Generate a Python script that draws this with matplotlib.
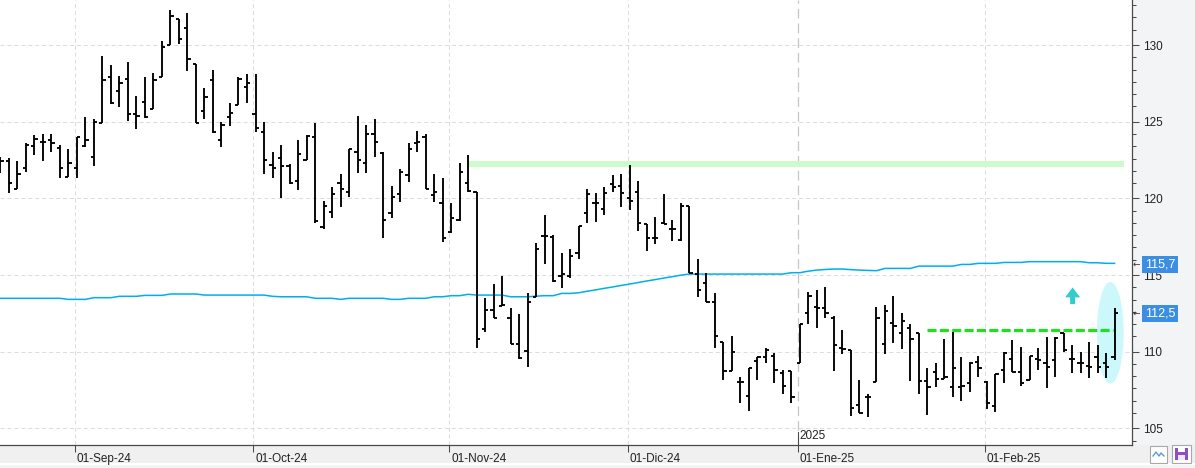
import numpy as np
import pandas as pd
import matplotlib
matplotlib.use('Agg')
import matplotlib.pyplot as plt
from matplotlib.collections import LineCollection
from matplotlib.patches import Ellipse, Rectangle
from matplotlib.transforms import ScaledTranslation

plt.rcParams['font.family'] = ['Liberation Sans', 'DejaVu Sans']
plt.rcParams['lines.scale_dashes'] = False

# trading days (Bolsa de Madrid, 20-Aug-24 .. 24-Feb-25)
dates = pd.bdate_range('2024-08-20', '2025-02-24', freq='C',
                       holidays=['2024-12-25', '2024-12-26', '2025-01-01'])

opens = [122.54, 122.41, 120.59, 121.96, 123.41, 123.65, 123.80, 123.26, 121.37, 121.96,
         123.41, 122.67, 124.89, 127.89, 127.00, 127.76, 125.48, 126.26, 125.80, 127.94,
         129.98, 131.70, 131.09, 128.76, 125.72, 127.72, 123.80, 125.28, 126.07, 127.24,
         125.50, 124.30, 122.20, 122.61, 122.13, 121.13, 122.48, 124.02, 118.11, 119.11,
         120.98, 120.39, 123.00, 122.28, 124.17, 122.93, 119.07, 120.28, 121.52, 123.59,
         124.02, 120.22, 119.72, 117.78, 118.59, 120.98, 120.39, 111.47, 112.71, 112.97,
         112.17, 110.47, 110.04, 113.58, 117.54, 117.50, 114.95, 114.93, 116.45, 119.06,
         119.67, 119.28, 120.91, 120.80, 120.00, 120.43, 118.32, 117.39, 118.41, 117.98,
         117.28, 119.50, 115.04, 114.50, 113.26, 110.61, 108.74, 108.00, 107.11, 109.41,
         109.63, 109.72, 108.63, 108.74, 109.28, 112.50, 112.93, 112.82, 112.17, 110.22,
         110.11, 106.52, 107.07, 108.00, 110.50, 111.85, 111.20, 111.52, 111.20, 108.11,
         108.70, 108.20, 107.72, 107.72, 107.98, 109.35, 108.04, 106.46, 108.80, 109.50,
         108.70, 108.15, 109.50, 109.24, 109.46, 111.20, 109.50, 109.24, 109.09, 109.63,
         109.24, 109.63]
highs = [122.72, 122.61, 122.41, 123.59, 124.13, 124.20, 124.20, 123.48, 123.22, 124.02,
         125.28, 125.17, 129.28, 128.70, 127.98, 128.91, 126.67, 127.94, 128.20, 130.26,
         132.28, 131.70, 132.09, 128.76, 127.22, 128.37, 124.98, 126.22, 127.94, 128.11,
         128.11, 124.98, 123.04, 123.48, 122.22, 123.80, 124.13, 124.94, 119.83, 120.72,
         121.59, 123.22, 125.37, 124.78, 125.20, 123.02, 120.80, 121.91, 123.59, 124.39,
         124.20, 121.61, 121.30, 119.72, 122.28, 122.83, 120.39, 113.47, 114.41, 114.93,
         112.82, 112.45, 113.84, 117.06, 118.91, 117.60, 116.41, 116.69, 118.19, 120.58,
         120.37, 120.72, 121.52, 121.59, 122.17, 121.13, 118.32, 118.76, 120.28, 118.58,
         119.72, 119.50, 116.04, 115.11, 113.80, 110.61, 111.02, 108.37, 108.91, 109.67,
         110.22, 109.89, 108.80, 108.74, 111.80, 113.87, 114.02, 114.24, 112.35, 111.41,
         110.11, 108.15, 107.24, 112.89, 113.04, 113.63, 112.54, 111.80, 111.20, 108.96,
         109.28, 110.83, 111.30, 109.63, 109.30, 109.72, 108.11, 108.54, 110.00, 110.76,
         110.28, 109.72, 110.22, 110.93, 110.93, 111.20, 110.43, 110.00, 110.63, 110.41,
         109.89, 112.83]
lows = [121.67, 120.37, 120.59, 121.74, 122.83, 122.46, 123.04, 121.30, 121.37, 121.30,
        123.37, 122.13, 124.89, 126.15, 125.98, 125.07, 124.50, 125.26, 125.80, 127.91,
        129.98, 130.04, 128.33, 124.89, 125.15, 124.28, 123.37, 124.74, 126.07, 126.24,
        124.30, 121.57, 121.30, 120.04, 120.91, 120.54, 122.48, 118.37, 117.98, 118.74,
        119.46, 120.07, 121.67, 121.67, 122.67, 117.39, 118.74, 119.78, 121.09, 123.04,
        120.59, 119.78, 117.17, 117.72, 118.54, 120.44, 110.21, 111.30, 112.17, 112.97,
        110.47, 109.50, 108.97, 113.58, 115.69, 114.56, 114.13, 114.78, 116.02, 118.37,
        118.48, 118.91, 120.39, 119.41, 119.24, 117.89, 116.58, 117.00, 118.32, 117.22,
        117.24, 115.11, 113.58, 113.26, 110.22, 108.15, 108.74, 106.63, 106.13, 108.15,
        109.24, 107.98, 107.22, 106.63, 109.24, 111.80, 111.52, 112.17, 108.74, 109.85,
        105.82, 105.98, 105.72, 108.00, 109.85, 110.54, 110.17, 108.11, 107.24, 105.87,
        107.72, 108.20, 107.07, 106.80, 107.39, 108.37, 106.24, 106.09, 107.93, 108.70,
        107.76, 108.15, 108.80, 107.61, 108.37, 110.00, 108.63, 108.59, 108.30, 108.59,
        108.30, 109.46]
closes = [122.46, 120.98, 121.59, 123.48, 123.85, 123.65, 123.59, 121.96, 122.28, 124.02,
          123.80, 124.96, 127.70, 126.20, 127.50, 125.48, 125.37, 125.28, 127.72, 129.85,
          131.89, 130.37, 129.07, 124.94, 126.63, 124.30, 124.78, 125.54, 127.78, 127.50,
          124.57, 122.48, 121.96, 122.13, 121.02, 122.89, 124.09, 118.52, 119.50, 120.28,
          120.61, 123.20, 122.50, 124.17, 123.67, 118.59, 120.07, 121.74, 123.20, 123.65,
          120.59, 120.39, 117.39, 118.70, 121.70, 120.48, 110.80, 112.71, 112.17, 113.04,
          110.47, 109.56, 113.26, 116.67, 117.54, 114.60, 115.05, 116.24, 118.19, 120.26,
          119.67, 120.37, 120.76, 120.32, 119.82, 118.41, 117.39, 117.39, 118.32, 117.98,
          119.50, 115.15, 114.02, 113.26, 111.02, 108.74, 110.00, 108.00, 108.91, 109.63,
          110.11, 108.80, 107.78, 107.02, 111.80, 113.65, 112.82, 112.50, 110.43, 110.15,
          106.30, 106.02, 107.07, 112.17, 112.67, 111.67, 112.02, 110.80, 108.11, 107.72,
          108.20, 108.37, 108.91, 107.76, 109.28, 108.91, 106.63, 108.52, 109.93, 108.70,
          107.98, 109.72, 109.46, 109.02, 110.91, 110.11, 109.50, 109.24, 109.02, 109.02,
          109.02, 112.50]
# moving average (blue line)
ma = ([113.48] * 8 + [113.41] * 3 + [113.52] * 3 + [113.61] * 3 + [113.67] * 3
      + [113.76] * 4 + [113.69] * 8 + [113.61, 113.58, 113.58, 113.58, 113.58]
      + [113.48, 113.48, 113.48, 113.41, 113.48, 113.48, 113.48, 113.48, 113.48,
         113.41, 113.41, 113.48, 113.48, 113.48, 113.58, 113.58, 113.65, 113.65,
         113.74, 113.69, 113.69, 113.69, 113.69, 113.58, 113.58, 113.58, 113.62,
         113.65, 113.65, 113.80, 113.80]
      + [113.84, 113.94, 114.03, 114.13, 114.22, 114.32, 114.41, 114.51, 114.61,
         114.70, 114.80, 114.89, 114.99, 115.06]
      + [115.06] * 11
      + [115.15, 115.15, 115.25, 115.32, 115.36, 115.39, 115.39, 115.35, 115.32,
         115.30, 115.28, 115.43, 115.43, 115.43, 115.43, 115.58, 115.58, 115.58,
         115.58, 115.58, 115.69, 115.69, 115.76, 115.76, 115.76, 115.82, 115.82,
         115.82, 115.87]
      + [115.87] * 6 + [115.80, 115.80, 115.76, 115.76])

month_labels = ['01-Sep-24', '01-Oct-24', '01-Nov-24', '01-Dic-24', '01-Ene-25', '01-Feb-25']
year_label = '2025'
y_ticks = [105, 110, 115, 120, 125, 130]

resistance_band = (122.06, 122.43)   # light green zone
resistance_start = 55.1
breakout_level = 111.41              # green dashed line
breakout_start = 109.0
ma_tag = '115,7'
last_tag = '112,5'

x = np.arange(len(closes))
month_idx = [i for i in range(1, len(dates)) if dates[i].month != dates[i - 1].month]
month_pos = [i - 0.25 for i in month_idx]

W, H = 1195, 468
fig = plt.figure(figsize=(W / 100, H / 100), dpi=100)
fig.patch.set_facecolor('#f3f4f6')
fig.add_artist(Rectangle((0, 1 - 463 / H), 1, 18 / H, transform=fig.transFigure,
                         facecolor='#f0f0f0', edgecolor='none', zorder=0))
fig.add_artist(Rectangle((0, 1 - 464.5 / H), 1, 1.2 / H, transform=fig.transFigure,
                         facecolor='white', edgecolor='none', zorder=0))

ax = fig.add_axes([0, (H - 445) / H, 1132 / W, 445 / H])
ax.set_facecolor('white')
ax.set_xlim(-0.04, 133.05)
ax.set_ylim(103.91, 132.94)

# grid
for yv in y_ticks:
    ax.axhline(yv, color='#dddddd', lw=0.75, ls=(0, (2.9, 2.1)), zorder=0)
for p, lab in zip(month_pos, month_labels):
    if lab.endswith('Ene-25'):
        ax.axvline(p, color='#c6c6c6', lw=0.9, ls=(0, (7, 3.6)), zorder=0)
    else:
        ax.axvline(p, color='#dddddd', lw=0.75, ls=(0, (2.9, 2.1)), zorder=0)

# annotations behind bars
ax.fill_between([resistance_start, 132.1], resistance_band[0], resistance_band[1],
                color='#ccfccc', lw=0, zorder=1)
ax.add_patch(Ellipse((130.5, 111.23), 3.14, 6.63, facecolor='#ccf7fb',
                     edgecolor='none', zorder=1))
ax.plot(x, ma, color='#00aeef', lw=1.1, zorder=2)
ax.plot([breakout_start, x[-1] - 0.15], [breakout_level] * 2, color='#1ee01e', lw=2.3,
        ls=(0, (6.5, 2.4)), dash_capstyle='butt', zorder=2)
ax.arrow(126.07, 113.10, 0, 1.09, width=0.59, head_width=1.76, head_length=0.65,
         length_includes_head=True, color='#33cccc', lw=0, zorder=2)

# OHLC bars
t = 0.38
segs = []
for i in x:
    segs.append([(i, lows[i]), (i, highs[i])])
    segs.append([(i - t, opens[i]), (i, opens[i])])
    segs.append([(i, closes[i]), (i + t, closes[i])])
ax.add_collection(LineCollection(segs, colors='black', linewidths=1.35,
                                 capstyle='butt', zorder=3))

# axes styling
for s in ['left', 'top']:
    ax.spines[s].set_visible(False)
for s in ['right', 'bottom']:
    ax.spines[s].set_color('#4a4a4a')
    ax.spines[s].set_linewidth(0.9)

ax.yaxis.tick_right()
ax.set_yticks(y_ticks)
ax.set_yticklabels([str(v) for v in y_ticks])
minor = [m - 0.8 * k for m in y_ticks + [135] for k in range(1, 6)]
ax.set_yticks([m for m in minor if 103.91 < m < 132.94], minor=True)
ax.tick_params(axis='y', which='major', length=5, width=0.75, color='#4a4a4a',
               labelsize=8.5, labelcolor='#222222', pad=3)
ax.tick_params(axis='y', which='minor', length=2.6, width=0.75, color='#4a4a4a')

ax.set_xticks(month_pos)
ax.set_xticklabels(month_labels, ha='left')
ax.tick_params(axis='x', length=5, width=0.75, color='#4a4a4a', labelsize=8.5,
               labelcolor='#222222', pad=0.5)
for lab in ax.get_xticklabels():
    lab.set_transform(lab.get_transform() + ScaledTranslation(2 / 100, 0, fig.dpi_scale_trans))

# year marker
jan = month_pos[month_labels.index('01-Ene-25')]
ax.plot([jan, jan], [0, 13 / 445], transform=ax.get_xaxis_transform(), color='#4a4a4a',
        lw=0.75, clip_on=False, zorder=4)
ax.annotate(year_label, xy=(jan, 0), xycoords=ax.get_xaxis_transform(),
            xytext=(2, 3), textcoords='offset pixels', ha='left', va='bottom',
            fontsize=8.5, color='#222222')

# price tags on the right axis
for val, tag in [(ma[-1] - 0.06, ma_tag), (closes[-1], last_tag)]:
    ax.annotate(tag, xy=(1, val), xycoords=('axes fraction', 'data'),
                xytext=(13, 0), textcoords='offset pixels', ha='left', va='center',
                fontsize=9, color='white', annotation_clip=False, zorder=6,
                bbox=dict(boxstyle='square,pad=0.22', fc='#3c8ee2', ec='none'))
    ax.annotate('\u2190', xy=(1, val), xycoords=('axes fraction', 'data'),
                xytext=(1, 0), textcoords='offset pixels', ha='left', va='center',
                fontsize=6.5, color='#333333', family='DejaVu Sans',
                annotation_clip=False, zorder=6)

# toolbar icons at the bottom right
def fig_rect(x0, y0, w, h, **kw):
    fig.add_artist(Rectangle((x0 / W, 1 - (y0 + h) / H), w / W, h / H,
                             transform=fig.transFigure, **kw))

fig_rect(1150, 446, 17, 17, facecolor='white', edgecolor='#a8a8a8', lw=0.8)
fig.add_artist(plt.Line2D(np.array([1153, 1156, 1159, 1161, 1164]) / W,
                          1 - np.array([456, 452, 456, 453, 456]) / H,
                          transform=fig.transFigure, color='#5b9bd5', lw=1))
fig_rect(1172, 445, 19, 18, facecolor='white', edgecolor='#a8a8a8', lw=0.8)
fig_rect(1175, 448, 13, 12, facecolor='#8e4fc6', edgecolor='none')
fig_rect(1178, 448, 7, 4, facecolor='white', edgecolor='none')
fig_rect(1178, 455, 7, 5, facecolor='#f0e6fa', edgecolor='none')

fig.savefig('out.png', dpi=100, facecolor=fig.get_facecolor())
